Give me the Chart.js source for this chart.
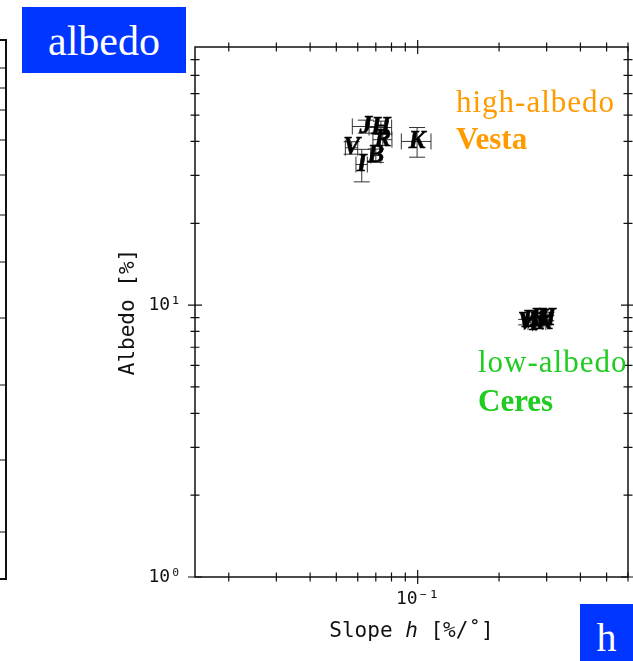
<!DOCTYPE html>
<html>
<head>
<meta charset="utf-8">
<script src="https://cdn.jsdelivr.net/npm/chart.js@4.4.1/dist/chart.umd.min.js"></script>
<style>
  html, body { margin: 0; padding: 0; background: #fff; }
  #wrap { position: relative; width: 633px; height: 661px; overflow: hidden; background: #fff; }
  #wrap canvas { position: absolute; left: 0; top: 0; }
  .tag { position: absolute; font-family: "Liberation Serif", serif; white-space: nowrap; line-height: 1.107; }
  .box { position: absolute; background: #0036ff; }
</style>
</head>
<body>
<div id="wrap">
  <canvas id="c" width="633" height="661"></canvas>
  <div class="box" style="left:22px;top:7px;width:164px;height:66px"></div>
  <div class="tag" style="left:22px;width:164px;text-align:center;top:17.6px;font-size:42px;color:#fff">albedo</div>
  <div class="box" style="left:580px;top:604px;width:60px;height:60px"></div>
  <div class="tag" style="left:580px;width:53px;text-align:center;top:616.4px;font-size:40px;color:#fff">h</div>
  <div class="tag" style="left:456px;top:85.4px;font-size:31px;letter-spacing:1px;color:#ff9a00">high-albedo</div>
  <div class="tag" style="left:456px;top:122.4px;font-size:31px;font-weight:bold;color:#ff9a00">Vesta</div>
  <div class="tag" style="left:478px;top:345.4px;font-size:31px;letter-spacing:1px;color:#1fcc1f">low-albedo</div>
  <div class="tag" style="left:478px;top:384.4px;font-size:31px;font-weight:bold;color:#1fcc1f">Ceres</div>
</div>
<script>
// Photometric phase-slope h versus geometric albedo for two asteroids,
// one letter per photometric band, with 1-sigma error bars.
const vestaBands     = ['J', 'H', 'R', 'V', 'B', 'I', 'K'];
const vestaSlope     = [0.0643, 0.0731, 0.0743, 0.0570, 0.0700, 0.0621, 0.0995];
const vestaSlopeErr  = [0.007, 0.007, 0.006, 0.003, 0.003, 0.003, 0.0125];
const vestaAlbedo    = [45.4, 45.0, 40.6, 37.9, 35.5, 32.9, 40.0];
const vestaAlbedoErr = [2.5, 2.5, 2.0, 2.0, 2.0, 4.5, 5.0];

const ceresBands     = ['V', 'B', 'I', 'R', 'J', 'H', 'K'];
const ceresSlope     = [0.252, 0.261, 0.270, 0.280, 0.289, 0.299, 0.294];
const ceresSlopeErr  = [0.004, 0.004, 0.004, 0.004, 0.004, 0.004, 0.004];
const ceresAlbedo    = [8.66, 8.80, 8.58, 8.96, 8.88, 8.96, 8.66];
const ceresAlbedoErr = [0.2, 0.2, 0.2, 0.2, 0.2, 0.2, 0.2];

// axis ranges and tick marks (log axes, decades labelled)
const xRange = [0.015, 0.6];
const yRange = [1, 89];
const xTickValues = [0.02, 0.03, 0.04, 0.05, 0.06, 0.07, 0.08, 0.09, 0.1, 0.2, 0.3, 0.4, 0.5, 0.6];
const yTickValues = [1, 2, 3, 4, 5, 6, 7, 8, 9, 10, 20, 30, 40, 50, 60, 70, 80];
const xMajorTicks = [0.1];
const xMajorLabels = ['10\u207B\u00B9'];
const yMajorTicks = [1, 10];
const yMajorLabels = ['10\u2070', '10\u00B9'];

// tick marks of the neighbouring panel's right-hand frame
const sidePanelTicks = [68, 88, 110, 140, 175, 215, 262, 318, 385, 460, 532];

const MONO = '"DejaVu Sans Mono", monospace';

function toPoints(xs, ys) {
  return xs.map((x, i) => ({ x: x, y: ys[i] }));
}

const letterPlugin = {
  id: 'bandLetters',
  afterDatasetsDraw(chart) {
    const ctx = chart.ctx;
    const xs = chart.scales.x, ys = chart.scales.y;
    const cap = 8;
    ctx.save();
    chart.data.datasets.forEach((ds, di) => {
      const meta = chart.getDatasetMeta(di);
      // error bars
      ctx.strokeStyle = '#333';
      ctx.lineWidth = 1;
      ds.data.forEach((p, i) => {
        const px = meta.data[i].x, py = meta.data[i].y;
        const ex = ds.slopeErr[i], ey = ds.albedoErr[i];
        const x0 = xs.getPixelForValue(p.x - ex), x1 = xs.getPixelForValue(p.x + ex);
        const y0 = ys.getPixelForValue(p.y - ey), y1 = ys.getPixelForValue(p.y + ey);
        ctx.beginPath();
        ctx.moveTo(x0, py); ctx.lineTo(x1, py);
        ctx.moveTo(x0, py - cap); ctx.lineTo(x0, py + cap);
        ctx.moveTo(x1, py - cap); ctx.lineTo(x1, py + cap);
        ctx.moveTo(px, y0); ctx.lineTo(px, y1);
        ctx.moveTo(px - cap, y0); ctx.lineTo(px + cap, y0);
        ctx.moveTo(px - cap, y1); ctx.lineTo(px + cap, y1);
        ctx.stroke();
      });
      // band letters
      ctx.fillStyle = '#000';
      ctx.strokeStyle = '#000';
      ctx.lineWidth = 0.6;
      ctx.font = 'italic bold 25px "Liberation Serif", serif';
      ctx.textAlign = 'center';
      ctx.textBaseline = 'middle';
      ds.data.forEach((p, i) => {
        ctx.fillText(ds.bands[i], meta.data[i].x, meta.data[i].y);
        ctx.strokeText(ds.bands[i], meta.data[i].x, meta.data[i].y);
      });
    });
    ctx.restore();
  }
};

const framePlugin = {
  id: 'frameTicks',
  afterDraw(chart) {
    const ctx = chart.ctx;
    const a = chart.chartArea;
    const xs = chart.scales.x, ys = chart.scales.y;
    ctx.save();
    ctx.strokeStyle = '#111';
    ctx.lineWidth = 1.5;
    ctx.strokeRect(a.left, a.top, a.right - a.left, a.bottom - a.top);
    ctx.lineWidth = 1.2;
    ctx.beginPath();
    xTickValues.forEach(v => {
      const px = xs.getPixelForValue(v);
      const len = xMajorTicks.includes(v) ? 7 : 4.5;
      ctx.moveTo(px, a.bottom - len); ctx.lineTo(px, a.bottom + len);
      ctx.moveTo(px, a.top - len); ctx.lineTo(px, a.top + len);
    });
    yTickValues.forEach(v => {
      const py = ys.getPixelForValue(v);
      const len = yMajorTicks.includes(v) ? 7 : 4.5;
      ctx.moveTo(a.left - len, py); ctx.lineTo(a.left + len, py);
      ctx.moveTo(a.right - len, py); ctx.lineTo(a.right + len, py);
    });
    ctx.stroke();

    // right edge of the neighbouring panel
    ctx.lineWidth = 2;
    ctx.beginPath();
    ctx.moveTo(0, 40); ctx.lineTo(6, 40); ctx.lineTo(6, 579); ctx.lineTo(0, 579);
    ctx.stroke();
    ctx.lineWidth = 1.2;
    ctx.beginPath();
    sidePanelTicks.forEach(t => { ctx.moveTo(0, t); ctx.lineTo(6, t); });
    ctx.stroke();
    ctx.restore();
  }
};

new Chart(document.getElementById('c'), {
  type: 'scatter',
  data: {
    datasets: [
      { label: 'Vesta', data: toPoints(vestaSlope, vestaAlbedo), bands: vestaBands,
        slopeErr: vestaSlopeErr, albedoErr: vestaAlbedoErr, pointRadius: 0, pointHoverRadius: 0 },
      { label: 'Ceres', data: toPoints(ceresSlope, ceresAlbedo), bands: ceresBands,
        slopeErr: ceresSlopeErr, albedoErr: ceresAlbedoErr, pointRadius: 0, pointHoverRadius: 0 }
    ]
  },
  options: {
    responsive: false,
    animation: false,
    events: [],
    layout: { padding: { left: 116, top: 47, right: 5, bottom: 17 } },
    plugins: { legend: { display: false }, tooltip: { enabled: false } },
    scales: {
      x: {
        type: 'logarithmic',
        position: 'bottom',
        min: xRange[0], max: xRange[1],
        grid: { display: false, drawTicks: false },
        border: { display: false },
        afterBuildTicks: s => { s.ticks = xTickValues.map(v => ({ value: v })); },
        afterFit: s => { s.height = 67; s.paddingLeft = 0; s.paddingRight = 0; },
        ticks: {
          autoSkip: false, maxRotation: 0, minRotation: 0, padding: 12,
          color: '#111', font: { family: MONO, size: 18 },
          callback: v => { const k = xMajorTicks.indexOf(v); return k >= 0 ? xMajorLabels[k] : ''; }
        },
        title: { display: true, text: 'Slope \u210E [%/\u02DA]', color: '#111',
                 font: { family: MONO, size: 21 }, padding: 0 }
      },
      y: {
        type: 'logarithmic',
        position: 'left',
        min: yRange[0], max: yRange[1],
        grid: { display: false, drawTicks: false },
        border: { display: false },
        afterBuildTicks: s => { s.ticks = yTickValues.map(v => ({ value: v })); },
        afterFit: s => { s.width = 79; s.paddingTop = 0; s.paddingBottom = 0; },
        ticks: {
          autoSkip: false, padding: 14,
          color: '#111', font: { family: MONO, size: 18 },
          callback: v => { const k = yMajorTicks.indexOf(v); return k >= 0 ? yMajorLabels[k] : ''; }
        },
        title: { display: true, text: 'Albedo [%]', color: '#111',
                 font: { family: MONO, size: 21 }, padding: 0 }
      }
    }
  },
  plugins: [letterPlugin, framePlugin]
});
</script>
</body>
</html>
